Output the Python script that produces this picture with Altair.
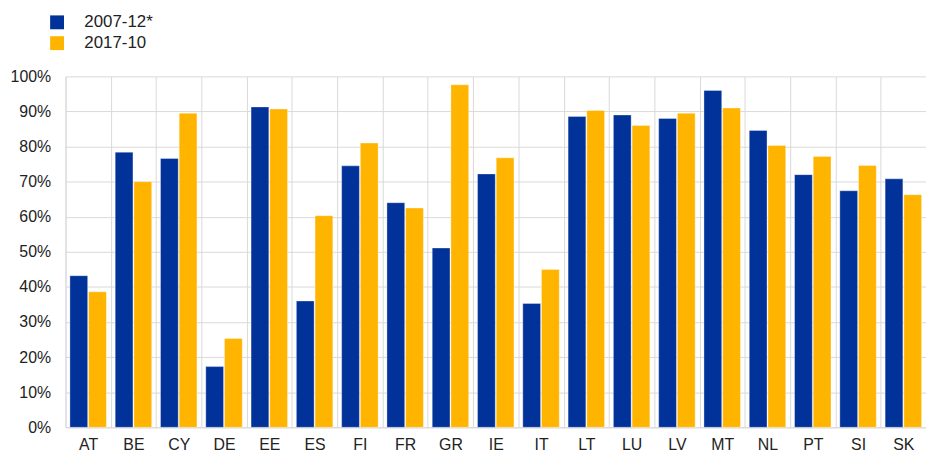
import altair as alt
import pandas as pd

countries = ["AT", "BE", "CY", "DE", "EE", "ES", "FI", "FR", "GR", "IE",
             "IT", "LT", "LU", "LV", "MT", "NL", "PT", "SI", "SK"]
series_names = ["2007-12*", "2017-10"]
v2007 = [43.2, 78.4, 76.6, 17.3, 91.3, 36.0, 74.5, 64.0, 51.1, 72.2,
         35.3, 88.6, 89.0, 88.0, 96.0, 84.6, 72.0, 67.4, 70.8]
v2017 = [38.6, 70.0, 89.5, 25.3, 90.7, 60.3, 81.0, 62.5, 97.6, 76.8,
         45.0, 90.3, 86.0, 89.5, 91.0, 80.3, 77.2, 74.6, 66.3]
colors = ["#003299", "#FFB400"]

rows = []
for c, a, b in zip(countries, v2007, v2017):
    rows.append({"country": c, "series": series_names[0], "value": a / 100})
    rows.append({"country": c, "series": series_names[1], "value": b / 100})
df = pd.DataFrame(rows)

font = "Liberation Sans"

chart = alt.Chart(df).mark_bar(
    stroke="white", strokeOpacity=0.35, strokeWidth=1
).encode(
    x=alt.X("country:N", sort=countries, title=None,
            scale=alt.Scale(paddingInner=0, paddingOuter=0),
            axis=alt.Axis(labelAngle=0, grid=True, tickBand="extent",
                          ticks=False, tickSize=0, labelPadding=9,
                          labelFontSize=16, labelFont=font, labelColor="#222222",
                          domainColor="#d9d9d9", gridColor="#d9d9d9")),
    xOffset=alt.XOffset("series:N", sort=series_names,
                        scale=alt.Scale(paddingInner=0.05, paddingOuter=0.236)),
    y=alt.Y("value:Q", title=None,
            scale=alt.Scale(domain=[0, 1], nice=False),
            axis=alt.Axis(format=".0%", values=[i / 10 for i in range(11)],
                          ticks=False, tickSize=0, labelPadding=15,
                          labelFontSize=16, labelFont=font, labelColor="#222222",
                          domainColor="#d9d9d9", gridColor="#d9d9d9")),
    color=alt.Color("series:N", sort=series_names,
                    scale=alt.Scale(domain=series_names, range=colors),
                    legend=alt.Legend(title=None, orient="none",
                                      legendX=-17, legendY=-63,
                                      symbolType="square", symbolSize=196,
                                      symbolStrokeWidth=0, symbolOpacity=1,
                                      labelFontSize=17, labelFont=font,
                                      labelColor="#222222", labelOffset=19,
                                      rowPadding=3, padding=0)),
).properties(
    width=868, height=354,
    padding={"left": 2, "top": 4, "right": 0, "bottom": 5},
).configure_view(stroke=None)

chart.save("out.html", embed_options={"renderer": "svg", "actions": False})
